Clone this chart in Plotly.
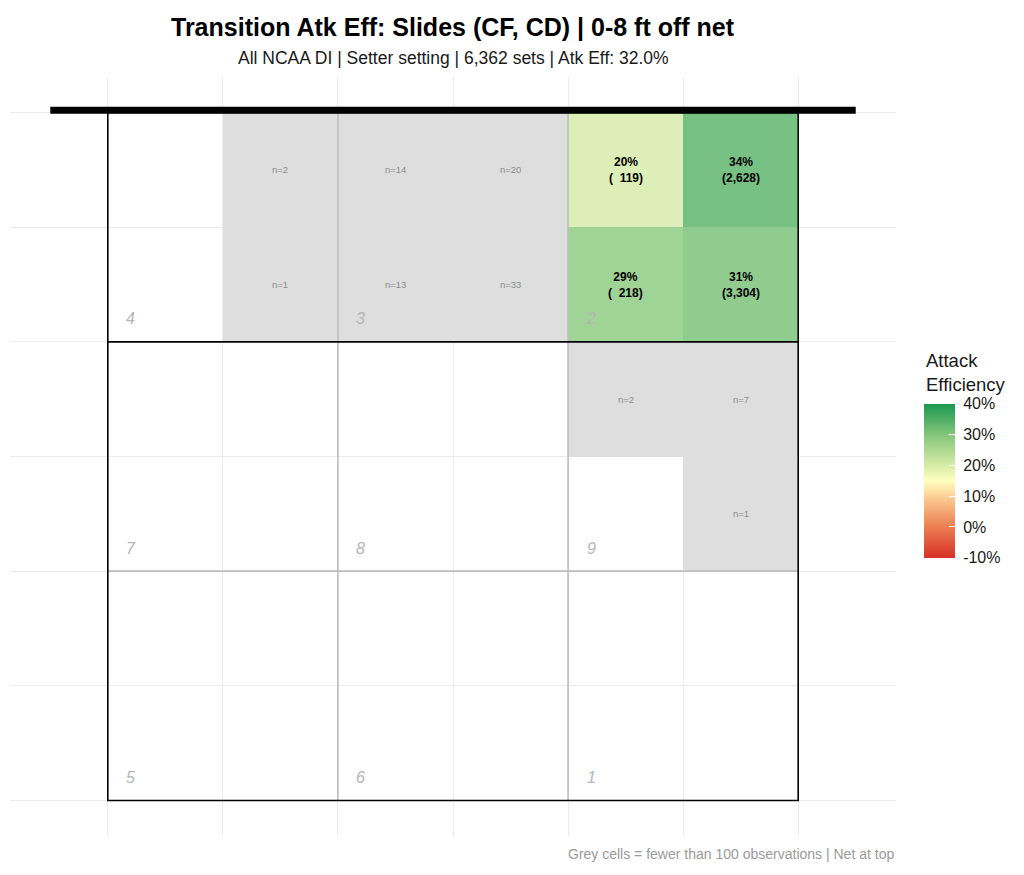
import plotly.graph_objects as go

# Cells of the court grid (column, row), row 5 is at the net
cell_col = [1, 2, 3, 4, 5, 1, 2, 3, 4, 5, 4, 5, 5]
cell_row = [5, 5, 5, 5, 5, 4, 4, 4, 4, 4, 3, 3, 2]
cell_n = [2, 14, 20, 119, 2628, 1, 13, 33, 218, 3304, 2, 7, 1]
cell_eff = [None, None, None, 0.20, 0.34, None, None, None, 0.29, 0.31, None, None, None]

# Zone numbers and the cell at the lower-left corner of each zone
zone_labels = ["4", "3", "2", "7", "8", "9", "5", "6", "1"]
zone_col = [0, 2, 4, 0, 2, 4, 0, 2, 4]
zone_row = [4, 4, 4, 2, 2, 2, 0, 0, 0]

eff_ticks = [-0.1, 0.0, 0.1, 0.2, 0.3, 0.4]
eff_tick_text = ["-10%", "0%", "10%", "20%", "30%", "40%"]

MIN_OBS = 100
FONT = "Liberation Sans, Arial, sans-serif"

centers = [i + 0.5 for i in range(6)]
z_eff = [[None] * 6 for _ in range(6)]
z_grey = [[None] * 6 for _ in range(6)]
for c, r, n, e in zip(cell_col, cell_row, cell_n, cell_eff):
    if n >= MIN_OBS:
        z_eff[r][c] = e
    else:
        z_grey[r][c] = 1

PLOT_W, PLOT_H = 886, 759
CB_Y = 0.468

fig = go.Figure()

# grey cells (too few observations)
fig.add_trace(go.Heatmap(
    x=centers, y=centers, z=z_grey,
    colorscale=[[0, "#dedede"], [1, "#dedede"]],
    showscale=False, hoverinfo="skip",
))

# efficiency cells
fig.add_trace(go.Heatmap(
    x=centers, y=centers, z=z_eff,
    zmin=-0.1, zmax=0.4,
    colorscale=[
        [0.0, "#d73027"],
        [0.2, "#ec7d52"],
        [0.4, "#fdcf95"],
        [0.5, "#ffffbf"],
        [0.6, "#d6eca6"],
        [0.8, "#84c67b"],
        [1.0, "#1a9850"],
    ],
    opacity=0.82,
    hoverinfo="skip",
    colorbar=dict(
        tickvals=eff_ticks, ticktext=["\u00a0" + t for t in eff_tick_text],
        tickfont=dict(size=16, color="#1a1a1a", family=FONT),
        ticks="inside", tickcolor="white", ticklen=6,
        outlinewidth=0,
        thickness=31, len=154, lenmode="pixels",
        x=(916 - 2) / PLOT_W, xanchor="left", y=CB_Y, yanchor="middle",
        xpad=0, ypad=0,
    ),
))

# colorbar title
fig.add_annotation(
    text="Attack<br>Efficiency", xref="paper", yref="paper",
    x=(916 - 2) / PLOT_W, y=CB_Y + 84 / PLOT_H, xanchor="left", yanchor="bottom", align="left",
    showarrow=False, font=dict(size=18.5, color="#1a1a1a", family=FONT),
)

# text labels in cells
for c, r, n, e in zip(cell_col, cell_row, cell_n, cell_eff):
    if n >= MIN_OBS:
        txt = "<b>%d%%<br>(%s)</b>" % (round(e * 100), f"{n:,}".rjust(5).replace(" ", "\u00a0"))
        fig.add_annotation(x=c + 0.5, y=r + 0.5, text=txt, showarrow=False,
                           font=dict(size=12, color="black", family=FONT))
    else:
        fig.add_annotation(x=c + 0.5, y=r + 0.5, text="n=%d" % n, showarrow=False,
                           font=dict(size=9.5, color="#8c8c8c", family=FONT))

# zone numbers
for lab, c, r in zip(zone_labels, zone_col, zone_row):
    fig.add_annotation(x=c + 0.2, y=r + 0.2, text=lab, showarrow=False,
                       font=dict(size=16, color="#b5b5b5", family=FONT, style="italic"))

# court lines
grey_line = dict(color="#bdbdbd", width=1.6)
black_line = dict(color="black", width=1.6)
shapes = [
    dict(type="line", x0=2, x1=2, y0=0, y1=6, line=grey_line),
    dict(type="line", x0=4, x1=4, y0=0, y1=6, line=grey_line),
    dict(type="line", x0=0, x1=6, y0=2, y1=2, line=grey_line),
    dict(type="line", x0=0, x1=6, y0=4, y1=4, line=black_line),
    dict(type="rect", x0=0, x1=6, y0=0, y1=6, line=black_line),
    dict(type="line", x0=-0.5, x1=6.5, y0=6.02, y1=6.02, line=dict(color="black", width=7)),
]
for s in shapes:
    s.update(xref="x", yref="y", layer="above")

# title, subtitle, caption
fig.add_annotation(
    text="<b>Transition Atk Eff: Slides (CF, CD) | 0-8 ft off net</b>",
    xref="paper", yref="paper", x=0.5, y=1 + 50 / PLOT_H, yanchor="middle",
    showarrow=False, font=dict(size=25, color="black", family=FONT),
)
fig.add_annotation(
    text="All NCAA DI | Setter setting | 6,362 sets | Atk Eff: 32.0%",
    xref="paper", yref="paper", x=0.5, y=1 + 19 / PLOT_H, yanchor="middle",
    showarrow=False, font=dict(size=17.5, color="#1a1a1a", family=FONT),
)
fig.add_annotation(
    text="Grey cells = fewer than 100 observations | Net at top",
    xref="paper", yref="paper", x=1, y=-0.01, xanchor="right", yanchor="top",
    showarrow=False, font=dict(size=14, color="#9a9a9a", family=FONT),
)

fig.update_layout(
    width=1016, height=867,
    margin=dict(l=2, r=1016 - 2 - PLOT_W, t=69, b=867 - 69 - PLOT_H),
    paper_bgcolor="white", plot_bgcolor="white",
    shapes=shapes,
    font=dict(family=FONT),
    showlegend=False,
)
fig.update_xaxes(range=[-0.85, 6.85], tickvals=list(range(7)), showticklabels=False,
                 showgrid=True, gridcolor="#ebebeb", gridwidth=1, zeroline=False, ticks="")
fig.update_yaxes(range=[-0.31, 6.31], tickvals=list(range(7)), showticklabels=False,
                 showgrid=True, gridcolor="#ebebeb", gridwidth=1, zeroline=False, ticks="")

fig.write_html("out.html")
